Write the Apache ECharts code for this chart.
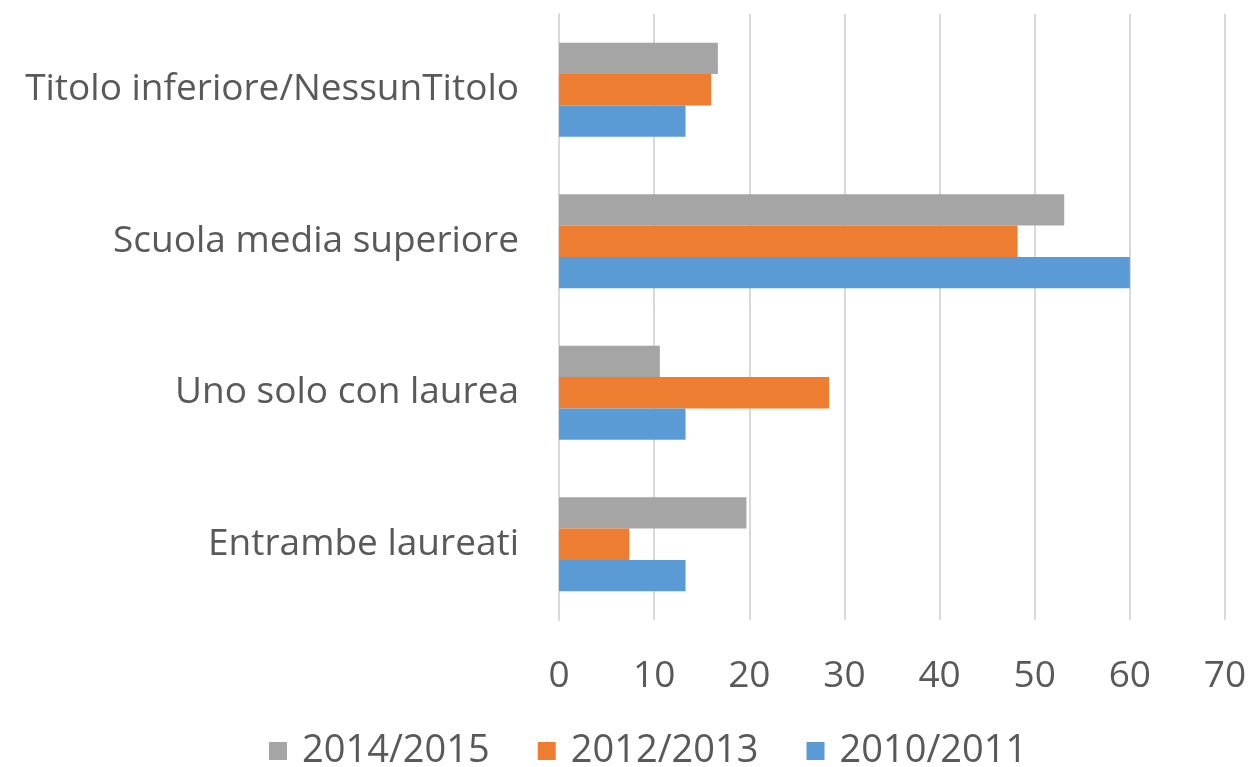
<!DOCTYPE html>
<html>
<head>
<meta charset="utf-8">
<script src="https://cdn.jsdelivr.net/npm/echarts@6/dist/echarts.min.js"></script>
<style>
  html, body { margin: 0; padding: 0; background: #fff; }
  #chart { width: 1250px; height: 767px; }
</style>
</head>
<body>
<div id="chart"></div>
<script>
// categories from bottom to top (y axis runs upward)
const categories = ['Entrambe laureati', 'Uno solo con laurea', 'Scuola media superiore', 'Titolo inferiore/NessunTitolo'];
const seriesNames = ['2014/2015', '2012/2013', '2010/2011'];
const values2014 = [19.7, 10.6, 53.1, 16.7];
const values2012 = [7.4, 28.4, 48.2, 16.0];
const values2010 = [13.3, 13.3, 60.0, 13.3];
const xTicks = [0, 10, 20, 30, 40, 50, 60, 70];

const colors = ['#a5a5a5', '#ed7d31', '#5b9bd5'];
const textColor = '#595959';
const fontFamily = '"Open Sans", "Noto Sans", sans-serif';

const chart = echarts.init(document.getElementById('chart'));
chart.setOption({
  animation: false,
  grid: { left: 559, right: 25, top: 14, bottom: 147 },
  legend: {
    top: 727,
    left: 264,
    itemWidth: 18,
    itemHeight: 18,
    itemGap: 48,
    icon: 'rect',
    textStyle: { color: textColor, fontSize: 38, fontFamily: fontFamily, padding: [0, 0, 0, 10] },
    data: seriesNames
  },
  xAxis: {
    type: 'value',
    min: xTicks[0],
    max: xTicks[xTicks.length - 1],
    interval: 10,
    axisLine: { show: false },
    axisTick: { show: false },
    axisLabel: { color: textColor, fontSize: 37, fontFamily: fontFamily, margin: 38 },
    splitLine: { show: true, lineStyle: { color: '#d9d9d9', width: 2 } }
  },
  yAxis: {
    type: 'category',
    data: categories,
    axisLine: { show: true, lineStyle: { color: '#d9d9d9', width: 2 } },
    axisTick: { show: false },
    axisLabel: { color: textColor, fontSize: 37, fontFamily: fontFamily, margin: 40 }
  },
  series: [
    { name: seriesNames[0], type: 'bar', data: values2014, itemStyle: { color: colors[0] }, barGap: '0%', barCategoryGap: '38%' },
    { name: seriesNames[1], type: 'bar', data: values2012, itemStyle: { color: colors[1] }, barGap: '0%', barCategoryGap: '38%' },
    { name: seriesNames[2], type: 'bar', data: values2010, itemStyle: { color: colors[2] }, barGap: '0%', barCategoryGap: '38%' }
  ]
});
</script>
</body>
</html>
